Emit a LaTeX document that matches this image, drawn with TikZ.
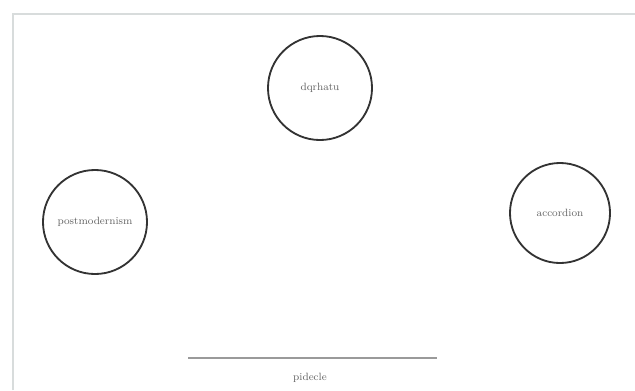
\documentclass[tikz,border=0pt]{standalone}
\usepackage{xcolor}
\usetikzlibrary{positioning}
\definecolor{ringgray}{HTML}{333333}
\definecolor{txtgray}{HTML}{666666}
\definecolor{framegray}{HTML}{D8DCDC}
\definecolor{rulegray}{HTML}{9A9A9A}
\tikzset{
  ring/.style={circle, draw=ringgray, line width=1.3pt, fill=white,
    minimum size=2.6cm, inner sep=0pt, font=\fontsize{7.5}{9}\selectfont,
    text=txtgray, align=center},
  frameline/.style={draw=framegray, line width=1.4pt},
  baseline rule/.style={draw=rulegray, line width=1pt},
  caption/.style={font=\fontsize{7.5}{9}\selectfont, text=txtgray},
}

\begin{document}
\begin{tikzpicture}[x=0.025cm, y=-0.025cm]
  \useasboundingbox (0,0) rectangle (635,390);
  % frame
  \draw[frameline] (13,390) -- (13,14) -- (635,14);

  \node[ring] (top)   at (320,88)  {dqrhatu};
  \node[ring] (left)  at (95,222)  {postmodernism};
  \node[ring, minimum size=2.5cm] (right) at (560,213) {accordion};

  \coordinate (ruleL) at (188,358);
  \coordinate (ruleR) at (437,358);
  \draw[baseline rule] (ruleL) -- (ruleR);
  \node[caption] (cap) at (310,378) {pidecle};
\end{tikzpicture}
\end{document}
